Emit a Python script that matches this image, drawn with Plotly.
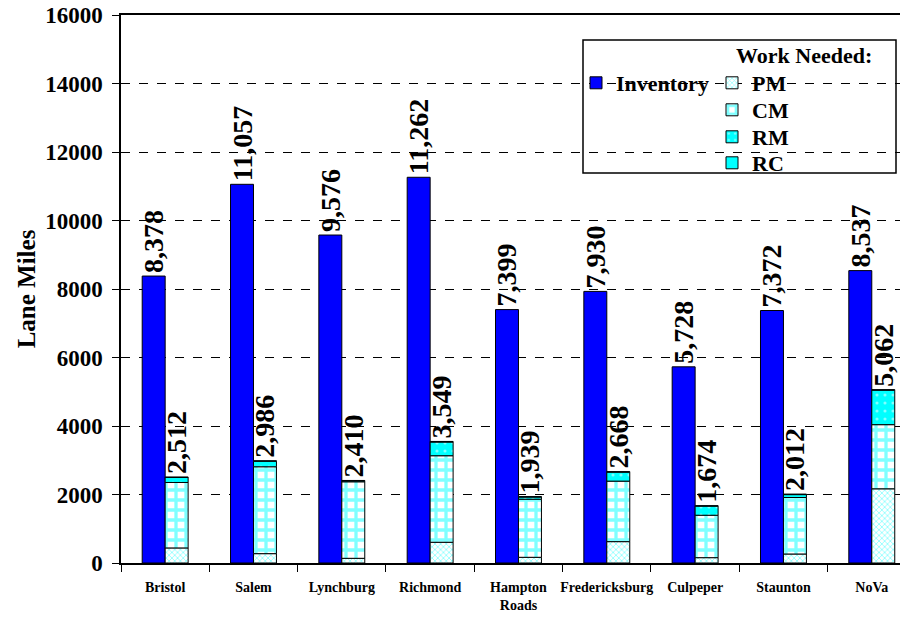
import plotly.graph_objects as go

districts = ["Bristol", "Salem", "Lynchburg", "Richmond", "Hampton<br>Roads",
             "Fredericksburg", "Culpeper", "Staunton", "NoVa"]
inventory = [8378, 11057, 9576, 11262, 7399, 7930, 5728, 7372, 8537]
pm = [440, 273, 137, 605, 166, 624, 156, 263, 2166]
cm = [1911, 2537, 2234, 2527, 1697, 1766, 1239, 1649, 1873]
rm = [145, 160, 27, 400, 62, 262, 265, 85, 1005]
rc = [16, 16, 12, 17, 14, 16, 14, 15, 18]
y_ticks = [0, 2000, 4000, 6000, 8000, 10000, 12000, 14000, 16000]

FONT = "Liberation Serif"
base_cm = [a for a in pm]
base_rm = [a + b for a, b in zip(pm, cm)]
base_rc = [a + b + c for a, b, c in zip(pm, cm, rm)]
totals = [a + b + c + d for a, b, c, d in zip(pm, cm, rm, rc)]

lab_font = dict(family=FONT, size=28, color="black", weight="bold")
line = dict(color="black", width=1)

fig = go.Figure()
fig.add_trace(go.Bar(
    x=districts, y=inventory, name="Inventory", offsetgroup="inv",
    marker=dict(color="#0000FF", line=line), legend="legend", showlegend=True,
    text=[f"{v:,}" for v in inventory], textposition="outside", textangle=-90,
    textfont=lab_font, constraintext="none", cliponaxis=False,
))
fig.add_trace(go.Bar(
    x=districts, y=pm, base=[0] * len(pm), name="PM", offsetgroup="work",
    marker=dict(color="white", line=line,
                pattern=dict(shape="x", fgcolor="#00FFFF", bgcolor="white", size=4, solidity=0.35)),
    legend="legend2", showlegend=True,
))
fig.add_trace(go.Bar(
    x=districts, y=cm, base=base_cm, name="CM", offsetgroup="work",
    marker=dict(color="white", line=line,
                pattern=dict(shape="+", fgcolor="#00FFFF", bgcolor="white", size=10, solidity=0.55)),
    legend="legend3", showlegend=True,
))
fig.add_trace(go.Bar(
    x=districts, y=rm, base=base_rm, name="RM", offsetgroup="work",
    marker=dict(color="#00FFFF", line=line,
                pattern=dict(shape=".", fgcolor="white", bgcolor="#00FFFF", size=8, solidity=0.12)),
    legend="legend4", showlegend=True,
))
fig.add_trace(go.Bar(
    x=districts, y=rc, base=base_rc, name="RC", offsetgroup="work",
    marker=dict(color="#00FFFF", line=line), legend="legend5", showlegend=True,
    text=[f"{v:,}" for v in totals], textposition="outside", textangle=-90,
    textfont=lab_font, constraintext="none", cliponaxis=False,
))

# page body has an 8px margin; plot area on screen: x 121..908, y 15..563
W, H = 908, 618
L, R, T, B = 113, 8, 7, 63
PX0, PX1, PY0, PY1 = 121, 908, 15, 563

def px_x(p):
    return (p - PX0) / (PX1 - PX0)

def px_y(p):
    return (PY1 - p) / (PY1 - PY0)

leg_font = dict(family=FONT, size=22, weight="bold")

def leg(xp, yp):
    return dict(x=px_x(xp), y=px_y(yp), xanchor="left", yanchor="middle",
                bgcolor="rgba(0,0,0,0)", font=leg_font, itemwidth=30)

fig.update_layout(
    width=W, height=H,
    margin=dict(l=L, r=R, t=T, b=B),
    paper_bgcolor="white", plot_bgcolor="white",
    barmode="group", bargap=0.48, bargroupgap=0,
    showlegend=True,
    font=dict(family=FONT, color="black"),
    xaxis=dict(
        type="category", range=[-0.5, 8.41], tickson="boundaries",
        ticks="outside", ticklen=7, tickcolor="black", tickangle=0,
        showline=True, linecolor="black", linewidth=1.5, mirror=True,
        tickfont=dict(family=FONT, size=14, weight="bold"),
        showgrid=False, automargin=False, ticklabelstandoff=10,
    ),
    yaxis=dict(
        range=[0, 16000], tickvals=y_ticks, tickformat="d", ticks="outside", ticklen=7,
        tickcolor="black", showline=True, linecolor="black", linewidth=1.5,
        showgrid=True, gridcolor="black", griddash="dash", gridwidth=1,
        tickfont=dict(family=FONT, size=23, weight="bold"), ticklabelstandoff=5,
        ticklabeloverflow="allow",
        title=dict(text="Lane Miles", font=dict(family=FONT, size=25, weight="bold"), standoff=2),
        zeroline=False, automargin=False,
    ),
    legend=leg(576, 83),
    legend2=leg(712, 83),
    legend3=leg(712, 110),
    legend4=leg(712, 137),
    legend5=leg(712, 163),
    annotations=[dict(text="Work Needed:", xref="paper", yref="paper",
                      x=px_x(734), y=px_y(55), xanchor="left", yanchor="middle",
                      showarrow=False, font=leg_font)],
    shapes=[dict(type="rect", xref="paper", yref="paper",
                 x0=px_x(583), x1=px_x(896), y0=px_y(173), y1=px_y(40),
                 line=dict(color="black", width=1.5), fillcolor="white", layer="below")],
)

fig.write_html("out.html", config={"displayModeBar": False})
